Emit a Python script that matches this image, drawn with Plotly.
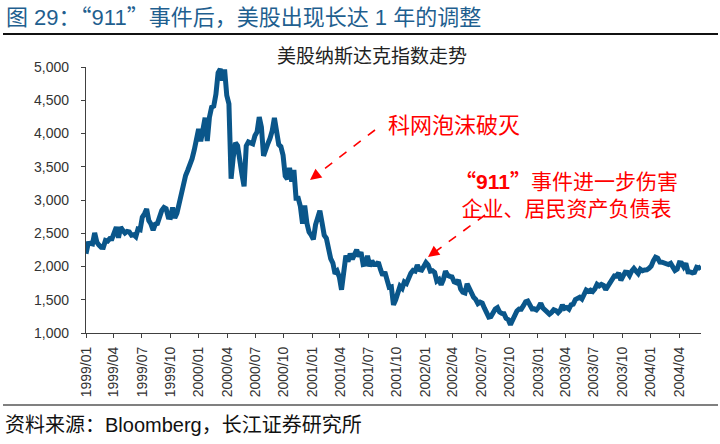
import pandas as pd
import plotly.graph_objects as go

# weekly (Friday) closes of the Nasdaq Composite
nasdaq_1999 = [
    2193, 2345, 2348, 2339, 2505, 2367, 2321, 2289, 2288, 2392, 2381, 2420, 2419,
    2485, 2593, 2431, 2590, 2543, 2503, 2528, 2520, 2470, 2478, 2448, 2563, 2553,
    2742, 2793, 2864, 2692, 2638, 2547, 2637, 2648, 2758, 2843, 2887, 2869, 2740,
    2736, 2886, 2731, 2801, 2967, 3102, 3221, 3369, 3448, 3520, 3621, 3753, 3904, 4069,
]
nasdaq_2000 = [
    3882, 4064, 4236, 3887, 4244, 4395, 4411, 4590, 4914, 4970, 4798, 4964, 4573,
    4446, 3321, 3644, 3860, 3817, 3529, 3390, 3205, 3813, 3874, 3860, 3845, 3966,
    4023, 4246, 4095, 3663, 3788, 3849, 3930, 4042, 4234, 3979, 3835, 3803, 3673,
    3361, 3316, 3483, 3278, 3451, 3028, 3028, 2904, 2645, 2917, 2653, 2518, 2471,
]
nasdaq_2001 = [
    2407, 2626, 2770, 2840, 2660, 2470, 2425, 2262, 2117, 2052, 1891, 1928, 1840,
    1650, 1961, 2163, 2075, 2192, 2108, 2199, 2251, 2149, 2215, 2029, 2035, 2161,
    2004, 2085, 2029, 2030, 2066, 1956, 1867, 1917, 1805, 1687, 1695, 1423, 1499,
    1605, 1703, 1671, 1768, 1745, 1828, 1898, 1941, 1930, 2021, 1953, 1945, 1987,
]
nasdaq_2002 = [
    2059, 2023, 1930, 1937, 1911, 1782, 1805, 1724, 1802, 1929, 1868, 1852, 1845,
    1770, 1756, 1797, 1663, 1613, 1601, 1741, 1662, 1616, 1536, 1504, 1441, 1463,
    1448, 1374, 1319, 1240, 1247, 1306, 1361, 1381, 1315, 1295, 1291, 1221, 1199,
    1125, 1210, 1287, 1331, 1360, 1359, 1411, 1468, 1479, 1422, 1362, 1363, 1348,
]
nasdaq_2003 = [
    1387, 1448, 1376, 1343, 1321, 1283, 1310, 1349, 1337, 1305, 1340, 1421, 1369,
    1383, 1359, 1425, 1434, 1502, 1520, 1538, 1510, 1596, 1646, 1627, 1644, 1625,
    1663, 1733, 1708, 1730, 1715, 1652, 1702, 1765, 1810, 1858, 1855, 1905, 1792,
    1880, 1915, 1912, 1865, 1932, 1971, 1930, 1893, 1960, 1937, 1949, 1951, 1974,
]
nasdaq_2004 = [
    2006, 2086, 2140, 2124, 2066, 2064, 2053, 2037, 2030, 2047, 1985, 1940, 1960,
    2057, 2052, 1995, 2049, 1920, 1917, 1904, 1912, 1987, 1978, 1999,
]

first_week = "1999-01-01"
tick_dates = [
    "1999-01-01", "1999-04-01", "1999-07-01", "1999-10-01",
    "2000-01-01", "2000-04-01", "2000-07-01", "2000-10-01",
    "2001-01-01", "2001-04-01", "2001-07-01", "2001-10-01",
    "2002-01-01", "2002-04-01", "2002-07-01", "2002-10-01",
    "2003-01-01", "2003-04-01", "2003-07-01", "2003-10-01",
    "2004-01-01", "2004-04-01",
]
tick_labels = [d[:7].replace("-", "/") for d in tick_dates]

values = nasdaq_1999 + nasdaq_2000 + nasdaq_2001 + nasdaq_2002 + nasdaq_2003 + nasdaq_2004
dates = pd.date_range(first_week, periods=len(values), freq="W-FRI")

FONT = "Liberation Sans, Arial, Noto Sans CJK SC"
CJK = "Noto Sans CJK SC"
RED = "#FF0000"


def q(s):
    # full-width quotes like the CJK font draws them
    return f'<span style="font-family:{CJK}">“</span>{s}<span style="font-family:{CJK}">”</span>'


fig = go.Figure()
fig.add_trace(go.Scatter(
    x=dates, y=values, mode="lines",
    line=dict(color="#0A568A", width=5),
    showlegend=False, hoverinfo="skip",
))

# plot area in pixels: x 86..701, y 67..333
L, R, T, B = 86, 701, 67, 333


def px(x):
    return (x - L) / (R - L)


def py(y):
    return (B - y) / (B - T)


ann = []
shapes = []

# header
ann.append(dict(x=px(4), y=py(15), xref="paper", yref="paper", xanchor="left", yanchor="middle",
                text=f"图 29：{q('911')}事件后，美股出现长达 1 年的调整", showarrow=False,
                font=dict(family=FONT, size=22, color="#1F5F8F")))
shapes.append(dict(type="line", xref="paper", yref="paper", x0=px(3), x1=px(718),
                   y0=py(34), y1=py(34), line=dict(color="#111111", width=2)))
ann.append(dict(x=px(372), y=py(57), xref="paper", yref="paper", xanchor="center", yanchor="middle",
                text="美股纳斯达克指数走势", showarrow=False,
                font=dict(family=FONT, size=19, color="#222222")))

# footer
shapes.append(dict(type="line", xref="paper", yref="paper", x0=px(3), x1=px(718),
                   y0=py(405), y1=py(405), line=dict(color="#808080", width=2)))
ann.append(dict(x=px(3), y=py(425), xref="paper", yref="paper", xanchor="left", yanchor="middle",
                text="资料来源：Bloomberg，长江证券研究所", showarrow=False,
                font=dict(family=FONT, size=20, color="#111111")))

# callouts
ann.append(dict(x=px(386), y=py(125), xref="paper", yref="paper", xanchor="left", yanchor="middle",
                text="科网泡沫破灭", showarrow=False, font=dict(family=FONT, size=22, color=RED)))
ann.append(dict(x=px(566), y=py(192), xref="paper", yref="paper", xanchor="center", yanchor="middle",
                text=f"<b>{q('911')}</b>事件进一步伤害<br>企业、居民资产负债表", showarrow=False,
                align="center", font=dict(family=FONT, size=21, color=RED)))

arrows = [((375, 130), (310, 180)), ((485, 215), (428, 257))]
for (x0, y0), (x1, y1) in arrows:
    dx, dy = x0 - x1, y0 - y1
    n = (dx * dx + dy * dy) ** 0.5
    ux, uy = dx / n, dy / n
    shapes.append(dict(type="line", xref="paper", yref="paper",
                       x0=px(x0), y0=py(y0), x1=px(x1 + ux * 8), y1=py(y1 + uy * 8),
                       line=dict(color=RED, width=1.6, dash="dash")))
    ann.append(dict(x=px(x1), y=py(y1), xref="paper", yref="paper", text="",
                    showarrow=True, arrowhead=2, arrowsize=1.4, arrowwidth=1.6, arrowcolor=RED,
                    ax=ux * 10, ay=uy * 10, axref="pixel", ayref="pixel"))

fig.update_layout(
    width=720, height=444,
    margin=dict(l=L, r=720 - R, t=T, b=444 - B),
    paper_bgcolor="white", plot_bgcolor="white",
    font=dict(family=FONT, size=14, color="#333333"),
    annotations=ann, shapes=shapes,
    xaxis=dict(
        range=["1999-01-01", "2004-06-11"],
        tickmode="array", tickvals=tick_dates, ticktext=tick_labels,
        tickangle=-90, ticks="outside", ticklen=4, tickcolor="#404040",
        ticklabelstandoff=3,
        showline=True, linecolor="#404040", linewidth=1.2,
        showgrid=False, zeroline=False,
        tickfont=dict(size=14, color="#333333"),
    ),
    yaxis=dict(
        range=[1000, 5000], dtick=500, tickformat=",",
        ticks="outside", ticklen=4, tickcolor="#404040",
        ticklabelstandoff=9,
        showline=True, linecolor="#404040", linewidth=1.2,
        showgrid=False, zeroline=False,
        tickfont=dict(size=14, color="#333333"),
    ),
)

fig.write_html("out.html", config={"displayModeBar": False},
               post_script="document.body.style.margin = '0px';")
